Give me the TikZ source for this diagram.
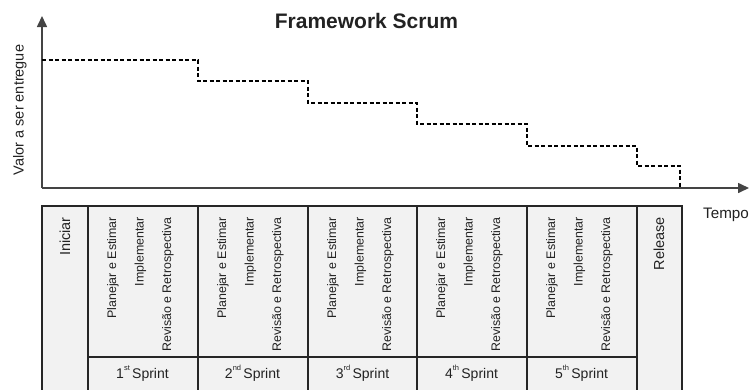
\documentclass[tikz,border=0pt]{standalone}
\usepackage{fontspec}
\setmainfont{Liberation Sans}
\usetikzlibrary{arrows.meta}
\definecolor{txt}{HTML}{222222}
\definecolor{cellfill}{HTML}{F2F2F2}
\definecolor{axisgray}{HTML}{444444}
\tikzset{
  axisline/.style={draw=axisgray, line width=1.6pt, -{Triangle[length=11pt,width=10pt]}},
  stairline/.style={draw=black, line width=1.3pt, dash pattern=on 4pt off 2.5pt},
  tableline/.style={draw=black!85, line width=1.4pt},
  item/.style={rotate=90, anchor=east, inner sep=0pt, text=txt, font=\fontsize{12.4}{14}\selectfont},
  biglabel/.style={inner sep=0pt, text=txt, font=\fontsize{14.5}{16}\selectfont},
}
\newcommand{\ordsup}[1]{\raisebox{0.55em}{\fontsize{7.5}{8}\selectfont #1}}
\begin{document}
\begin{tikzpicture}[x=1pt,y=-1pt]
\useasboundingbox (0,0) rectangle (751,389);
\clip (0,0) rectangle (751,389);
% title
\node[anchor=base, inner sep=0pt, font=\bfseries\fontsize{21}{24}\selectfont, text=txt] (title) at (366.5,28) {Framework Scrum};
% axes
\coordinate (origin) at (42,188);
\coordinate (ytip) at (42,16);
\coordinate (xtip) at (749,188);
\draw[axisline] (origin) -- (ytip);
\draw[axisline] (origin) -- (xtip);
\node[biglabel, rotate=90] (ylabel) at (20,110) {Valor a ser entregue};
\node[biglabel, anchor=base west, font=\fontsize{15.2}{17}\selectfont] (tempo) at (703,218) {Tempo};
% staircase
\draw[stairline] (42,60) -- (198,60) -- (198,81) -- (308,81) -- (308,103) -- (417,103) -- (417,124) -- (527,124) -- (527,146) -- (637,146) -- (637,166) -- (680,166) -- (680,188);
% table
\fill[cellfill] (42,206) rectangle (682,400);
\draw[tableline] (42,400) -- (42,206) -- (682,206) -- (682,400);
\foreach \x in {88,198,308,417,527,637} {
  \draw[tableline] (\x,206) -- (\x,400);
}
\draw[tableline] (88,357) -- (637,357);
% first and last columns
\node[biglabel, rotate=90, anchor=east] (iniciar) at (65,217) {Iniciar};
\node[biglabel, rotate=90, anchor=east] (release) at (659,217) {Release};
% sprint columns
\foreach \x/\n/\s [count=\i] in {88/1/st,198/2/nd,308/3/rd,417/4/th,527/5/th} {
  \node[item] (pe\i) at (\x+25,217) {Planejar e Estimar};
  \node[item] (im\i) at (\x+52.5,217) {Implementar};
  \node[item] (rr\i) at (\x+80,217) {Revisão e Retrospectiva};
  \node[biglabel, anchor=base, font=\fontsize{14}{16}\selectfont] (sp\i) at (\x+54.5,378) {\n\ordsup{\s}\,Sprint};
}
\end{tikzpicture}
\end{document}
